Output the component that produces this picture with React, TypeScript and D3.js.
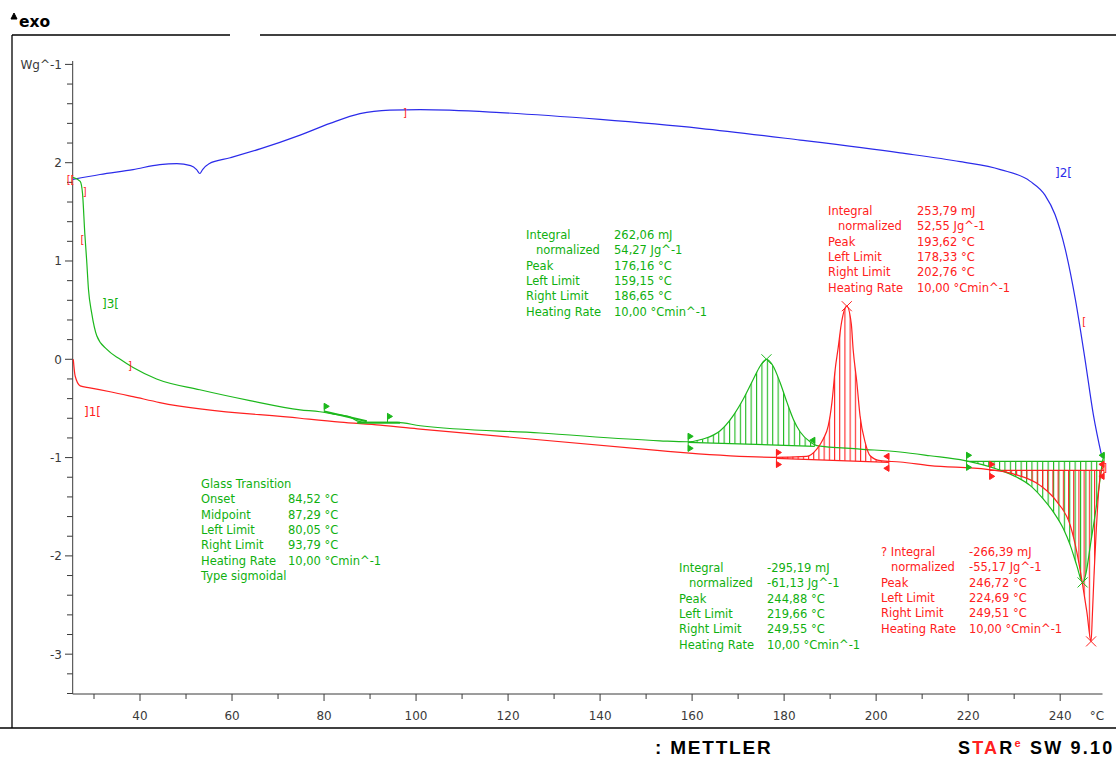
import React from 'react';
import * as d3 from 'd3';

// curves: [temperature °C, heat flow W/g]
const redCurve: [number, number][] = [
  [25.5, 0.0], [25.9, -0.17], [27.0, -0.27], [29.1, -0.29], [33.5, -0.33], [38.5, -0.38], [44.3, -0.44],
  [74.8, -0.6], [83.5, -0.64], [92.2, -0.67], [100.9, -0.71], [153.0, -0.93], [158.8, -0.953],
  [177.6, -0.997], [184.9, -0.987], [187.1, -0.913], [188.5, -0.811], [189.6, -0.676], [190.4, -0.436],
  [191.1, -0.101], [191.7, 0.101], [192.5, 0.38], [193.62, 0.54], [194.6, 0.36], [195.0, 0.101],
  [195.8, -0.233], [196.5, -0.575], [197.6, -0.842], [198.7, -0.981], [200.9, -1.031], [205.2, -1.045],
  [211.7, -1.082], [224.1, -1.12], [229.8, -1.166], [235.7, -1.285], [239.3, -1.45], [242.2, -1.691],
  [243.6, -1.957], [244.9, -2.3], [245.8, -2.57], [246.72, -2.87], [247.0, -2.6], [247.4, -2.15],
  [247.8, -1.78], [248.2, -1.45], [248.6, -1.22], [249.1, -1.12], [249.5, -1.08],
];

const greenCurve: [number, number][] = [
  [25.4, 1.85], [27.0, 1.81], [27.5, 1.69], [28.0, 1.28], [28.4, 1.01], [28.8, 0.71], [29.5, 0.47],
  [30.6, 0.24], [32.8, 0.1], [35.7, 0.0], [38.5, -0.084], [43.6, -0.2], [53.0, -0.31], [63.9, -0.42],
  [74.8, -0.514], [79.1, -0.534], [82.0, -0.558], [85.7, -0.588], [87.2, -0.626], [89.3, -0.642],
  [95.9, -0.642], [100.9, -0.676], [127, -0.75], [153.0, -0.829], [158.9, -0.839], [162.4, -0.811],
  [166.1, -0.727], [168.9, -0.575], [171.1, -0.406], [173.3, -0.203], [174.8, -0.068], [176.16, 0.0],
  [177.6, -0.068], [179.1, -0.233], [180.6, -0.436], [182.0, -0.609], [183.5, -0.74], [185.7, -0.842],
  [187.1, -0.879], [196.5, -0.913], [205.2, -0.943], [211.7, -0.981], [219.3, -1.031], [226.2, -1.116],
  [230.6, -1.2], [233.5, -1.285], [236.3, -1.42], [238.5, -1.552], [240.7, -1.724], [242.2, -1.893],
  [243.6, -2.096], [244.88, -2.27], [245.6, -2.18], [246.6, -1.88], [247.7, -1.55], [248.5, -1.28],
  [249.2, -1.04], [249.55, -0.96],
];

const blueCurve: [number, number][] = [
  [25.4, 1.83], [31.3, 1.88], [38.5, 1.93], [44.3, 1.98], [48.0, 1.99], [51.0, 1.97], [52.3, 1.93],
  [53.0, 1.89], [53.6, 1.93], [55.0, 1.99], [59.6, 2.05], [66.1, 2.14], [74.8, 2.28], [81.3, 2.4],
  [87.8, 2.5], [94.3, 2.535], [100.9, 2.54], [118.3, 2.51], [140, 2.44], [161.7, 2.35], [183.5, 2.23],
  [205.2, 2.1], [218.3, 2.01], [227, 1.93], [233.5, 1.81], [236.7, 1.67], [238.9, 1.47], [241.1, 1.12],
  [243.3, 0.61], [245.4, 0.0], [247.2, -0.56], [249.1, -1.0],
];

// integrated peaks: [left limit, right limit, baseline left, baseline right]
const greenPeaks: [number, number, number, number][] = [
  [159.15, 186.65, -0.845, -0.885],
  [219.66, 249.55, -1.038, -1.038],
];
const redPeaks: [number, number, number, number][] = [
  [178.33, 202.76, -1.009, -1.048],
  [224.69, 249.51, -1.13, -1.13],
];
const peakCrosses: [number, number, string][] = [
  [176.16, 0.0, 'green'], [193.62, 0.54, 'red'], [244.88, -2.27, 'green'], [246.72, -2.87, 'red'],
];
// glass transition limits on the green curve
const tgLimits: [number, number][] = [[80.05, -0.54], [93.79, -0.642]];

// red bracket marks of the evaluation ranges
const bracketMarks: [number, number, string][] = [
  [24.9, 1.83, '[['], [28.0, 1.71, ']'], [27.5, 1.22, '['], [37.8, -0.06, ']'], [97.6, 2.52, ']'],
  [245.2, 0.385, '['], [249.8, -1.1, ']'],
];

const xMajor = [40, 60, 80, 100, 120, 140, 160, 180, 200, 220, 240];
const xMinor = [30, 50, 70, 90, 110, 130, 150, 170, 190, 210, 230];
const yMajor = [2, 1, 0, -1, -2, -3];
const yMinor = [2.8, 2.6, 2.4, 2.2, 1.8, 1.6, 1.4, 1.2, 0.8, 0.6, 0.4, 0.2, -0.2, -0.4, -0.6, -0.8,
  -1.2, -1.4, -1.6, -1.8, -2.2, -2.4, -2.6, -2.8, -3.2, -3.4];

const greenPeak1Rows = [
  ['Integral', '262,06 mJ'], [' normalized', '54,27 Jg^-1'], ['Peak', '176,16 °C'],
  ['Left Limit', '159,15 °C'], ['Right Limit', '186,65 °C'], ['Heating Rate', '10,00 °Cmin^-1'],
];
const redPeak1Rows = [
  ['Integral', '253,79 mJ'], [' normalized', '52,55 Jg^-1'], ['Peak', '193,62 °C'],
  ['Left Limit', '178,33 °C'], ['Right Limit', '202,76 °C'], ['Heating Rate', '10,00 °Cmin^-1'],
];
const glassRows = [
  ['Glass Transition', ''], ['Onset', '84,52 °C'], ['Midpoint', '87,29 °C'], ['Left Limit', '80,05 °C'],
  ['Right Limit', '93,79 °C'], ['Heating Rate', '10,00 °Cmin^-1'], ['Type sigmoidal', ''],
];
const greenPeak2Rows = [
  ['Integral', '-295,19 mJ'], [' normalized', '-61,13 Jg^-1'], ['Peak', '244,88 °C'],
  ['Left Limit', '219,66 °C'], ['Right Limit', '249,55 °C'], ['Heating Rate', '10,00 °Cmin^-1'],
];
const redPeak2Rows = [
  ['? Integral', '-266,39 mJ'], [' normalized', '-55,17 Jg^-1'], ['Peak', '246,72 °C'],
  ['Left Limit', '224,69 °C'], ['Right Limit', '249,51 °C'], ['Heating Rate', '10,00 °Cmin^-1'],
];

const RED = '#ff2020';
const GREEN = '#1cb81c';
const BLUE = '#2b2bea';
const TXT_GREEN = '#10b010';
const AXIS = '#3a3a3a';
const FONT = '"DejaVu Sans", Verdana, sans-serif';
const LOGO_FONT = '"Liberation Sans", Arial, sans-serif';

const x = d3.scaleLinear().domain([25.37, 249.2]).range([72.7, 1102.5]);
const y = d3.scaleLinear().domain([3, -3.4]).range([64.4, 693.5]);

const line = d3.line<[number, number]>().x(d => x(d[0])).y(d => y(d[1])).curve(d3.curveMonotoneX);

function valueAt(curve: [number, number][], t: number) {
  const i = d3.bisector((d: [number, number]) => d[0]).left(curve, t);
  if (i <= 0) return curve[0][1];
  if (i >= curve.length) return curve[curve.length - 1][1];
  const a = curve[i - 1], b = curve[i];
  return a[1] + (b[1] - a[1]) * (t - a[0]) / (b[0] - a[0]);
}

function peakArea(curve: [number, number][], p: [number, number, number, number]) {
  const [l, r, bl, br] = p;
  const base = d3.scaleLinear().domain([l, r]).range([bl, br]);
  const pts: [number, number][] = [[l, valueAt(curve, l)], ...curve.filter(d => d[0] > l && d[0] < r), [r, valueAt(curve, r)]];
  return d3.area<[number, number]>()
    .x(d => x(d[0]))
    .y0(d => y(base(d[0])))
    .y1(d => y(d[1]))
    .curve(d3.curveMonotoneX)(pts) || '';
}

function Flag({ t, v, dir, color, below = true }: { t: number; v: number; dir: number; color: string; below?: boolean }) {
  const px = x(t), py = y(v);
  const tri = (yy: number) => `M${px},${yy - 3}L${px + 5 * dir},${yy}L${px},${yy + 3}Z`;
  return (
    <g fill={color} stroke={color} strokeWidth={1}>
      <line x1={px} x2={px} y1={py - 9} y2={below ? py + 9 : py} />
      <path d={tri(py - 6)} />
      {below && <path d={tri(py + 6)} />}
    </g>
  );
}

function Block({ lx, vx, top, color, rows }: { lx: number; vx: number; top: number; color: string; rows: string[][] }) {
  return (
    <g fill={color} fontFamily={FONT} fontSize={11.5}>
      {rows.map((r, i) => (
        <g key={i}>
          <text x={r[0].startsWith(' ') ? lx + 10 : lx} y={top + i * 15.3}>{r[0].trim()}</text>
          {r[1] && <text x={vx} y={top + i * 15.3}>{r[1]}</text>}
        </g>
      ))}
    </g>
  );
}

export default function App() {
  return (
    <svg width={1116} height={758} style={{ position: 'absolute', left: 0, top: 0, background: '#fff' }}>
      <defs>
        <pattern id="hatchG" patternUnits="userSpaceOnUse" width={5.4} height={10}>
          <line x1={0.5} x2={0.5} y1={0} y2={10} stroke={GREEN} strokeWidth={1.2} />
        </pattern>
        <pattern id="hatchR" patternUnits="userSpaceOnUse" width={5.2} height={10} x={2}>
          <line x1={0.5} x2={0.5} y1={0} y2={10} stroke={RED} strokeWidth={1.2} />
        </pattern>
      </defs>

      {/* frame */}
      <g stroke="#000" strokeWidth={1.3} fill="none">
        <line x1={12} x2={12} y1={35} y2={728} />
        <line x1={12} x2={230} y1={35} y2={35} />
        <line x1={260} x2={1116} y1={35} y2={35} />
        <line x1={0} x2={1116} y1={728} y2={728} />
      </g>
      <path d="M11,19L14,13L17,19Z" fill="#000" stroke="#000" strokeWidth={1} />
      <text x={19} y={27} fontFamily={FONT} fontWeight="bold" fontSize={15.5}>exo</text>

      {/* axes */}
      <g stroke={AXIS} strokeWidth={1}>
        <line x1={72.7} x2={72.7} y1={61} y2={694} />
        <line x1={72.7} x2={1102.5} y1={694} y2={694} />
        {xMajor.map(t => <line key={t} x1={x(t)} x2={x(t)} y1={694} y2={701} />)}
        {xMinor.map(t => <line key={t} x1={x(t)} x2={x(t)} y1={694} y2={699} />)}
        <line x1={65} x2={72.7} y1={y(3)} y2={y(3)} />
        {yMajor.map(v => <line key={v} x1={65} x2={72.7} y1={y(v)} y2={y(v)} />)}
        {yMinor.map(v => <line key={v} x1={67} x2={72.7} y1={y(v)} y2={y(v)} />)}
      </g>
      <g fill={AXIS} fontFamily={FONT} fontSize={12}>
        {xMajor.map(t => <text key={t} x={x(t)} y={720} textAnchor="middle">{t}</text>)}
        <text x={1097} y={720} textAnchor="middle">°C</text>
        {yMajor.map(v => <text key={v} x={62} y={y(v) + 4.5} textAnchor="end">{v}</text>)}
        <text x={62} y={y(3) + 4.5} textAnchor="end">Wg^-1</text>
      </g>

      {/* hatched peak areas */}
      {greenPeaks.map((p, i) => <path key={'g' + i} d={peakArea(greenCurve, p)} fill="url(#hatchG)" />)}
      {redPeaks.map((p, i) => <path key={'r' + i} d={peakArea(redCurve, p)} fill="url(#hatchR)" />)}
      {greenPeaks.map((p, i) => (
        <line key={'gb' + i} x1={x(p[0])} x2={x(p[1])} y1={y(p[2])} y2={y(p[3])} stroke={GREEN} strokeWidth={1.3} />
      ))}
      {redPeaks.map((p, i) => (
        <line key={'rb' + i} x1={x(p[0])} x2={x(p[1])} y1={y(p[2])} y2={y(p[3])} stroke={RED} strokeWidth={1.3} />
      ))}

      {/* curves */}
      <path d={line(blueCurve) || ''} fill="none" stroke={BLUE} strokeWidth={1.2} />
      <path d={line(greenCurve) || ''} fill="none" stroke={GREEN} strokeWidth={1.2} />
      <path d={line(redCurve) || ''} fill="none" stroke={RED} strokeWidth={1.2} />

      {/* limit flags */}
      {greenPeaks.map((p, i) => (
        <g key={'gf' + i}>
          <Flag t={p[0]} v={p[2]} dir={1} color={GREEN} />
          <Flag t={p[1]} v={p[3]} dir={-1} color={GREEN} below={false} />
        </g>
      ))}
      {redPeaks.map((p, i) => (
        <g key={'rf' + i}>
          <Flag t={p[0]} v={p[2]} dir={1} color={RED} />
          <Flag t={p[1]} v={p[3]} dir={-1} color={RED} />
        </g>
      ))}
      {tgLimits.map((d, i) => <Flag key={'tg' + i} t={d[0]} v={d[1]} dir={1} color={GREEN} below={false} />)}
      <line x1={x(80.05)} x2={x(89.3)} y1={y(-0.53)} y2={y(-0.63)} stroke={GREEN} strokeWidth={2} />
      <line x1={x(87.2)} x2={x(96.5)} y1={y(-0.645)} y2={y(-0.645)} stroke={GREEN} strokeWidth={2} />

      {/* peak crosses */}
      {peakCrosses.map((c, i) => {
        const px = x(c[0]), py = y(c[1]);
        const col = c[2] === 'red' ? RED : GREEN;
        return (
          <g key={'c' + i} stroke={col} strokeWidth={1}>
            <line x1={px - 5} x2={px + 5} y1={py - 5} y2={py + 5} />
            <line x1={px - 5} x2={px + 5} y1={py + 5} y2={py - 5} />
          </g>
        );
      })}

      {/* range brackets */}
      <g fill={RED} fontFamily={FONT} fontSize={10}>
        {bracketMarks.map((b, i) => <text key={i} x={x(b[0])} y={y(b[1]) + 4} textAnchor="middle">{b[2]}</text>)}
      </g>
      <g fontFamily={FONT} fontSize={12}>
        <text x={84} y={416} fill={RED}>]1[</text>
        <text x={102} y={308} fill={TXT_GREEN}>]3[</text>
        <text x={1055} y={177} fill={BLUE}>]2[</text>
      </g>

      {/* evaluation results */}
      <Block lx={526} vx={614} top={239} color={TXT_GREEN} rows={greenPeak1Rows} />
      <Block lx={828} vx={917} top={215} color={RED} rows={redPeak1Rows} />
      <Block lx={201} vx={288} top={488} color={TXT_GREEN} rows={glassRows} />
      <Block lx={679} vx={767} top={572} color={TXT_GREEN} rows={greenPeak2Rows} />
      <Block lx={881} vx={969} top={556} color={RED} rows={redPeak2Rows} />

      {/* footer */}
      <text x={655} y={754} fontFamily={LOGO_FONT} fontWeight="bold" fontSize={19} letterSpacing={1.8}>: METTLER</text>
      <text x={958} y={754} fontFamily={LOGO_FONT} fontWeight="bold" fontSize={18} letterSpacing={2.2}>
        <tspan>S</tspan>
        <tspan fill={RED}>TA</tspan>
        <tspan>R</tspan>
        <tspan fill={RED} fontSize={11} dy={-7}>e</tspan>
        <tspan dy={7}> SW 9.10</tspan>
      </text>
    </svg>
  );
}
